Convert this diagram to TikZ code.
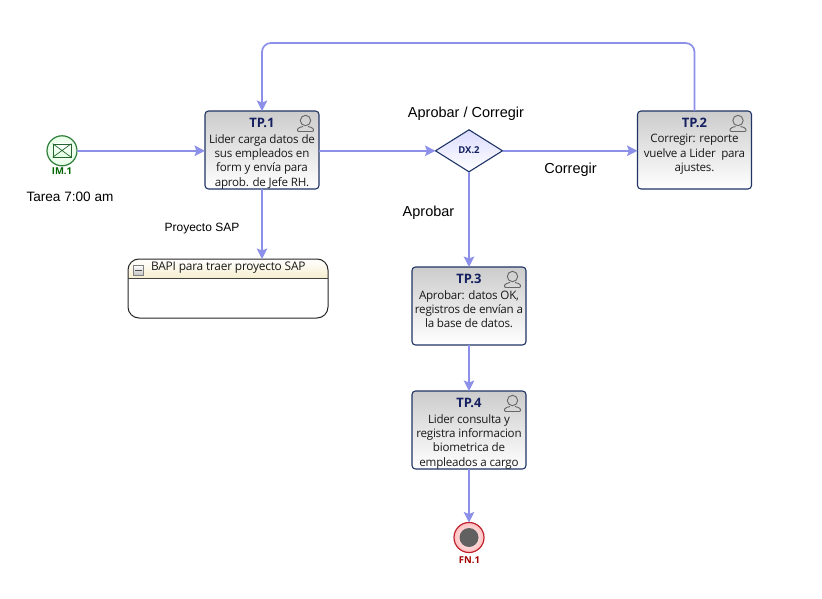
\documentclass[tikz,border=0pt]{standalone}
\usepackage{fontspec}
\setmainfont{Open Sans}
\newfontfamily\arialf{Liberation Sans}
\usetikzlibrary{arrows.meta,shapes.geometric}
\definecolor{flowc}{HTML}{8C90E8}
\definecolor{navy}{HTML}{1F3566}
\definecolor{titlec}{HTML}{14205F}
\definecolor{startg}{HTML}{2E7D3A}
\definecolor{endr}{HTML}{C0202C}
\tikzset{
  x=1pt,y=-1pt,
  flow/.style={draw=flowc,line width=1.7pt,-{Stealth[length=10.5pt,width=10.5pt,inset=2pt]},rounded corners=9pt},
  taskbox/.style={draw=navy,line width=1.1pt,rounded corners=3.5pt,top color=black!20,bottom color=white,middle color=black!10,minimum width=114pt,minimum height=78pt,inner sep=0pt,outer sep=0pt},
  bodytext/.style={anchor=north,align=center,font=\fontsize{11.6}{14.4}\selectfont\addfontfeatures{LetterSpace=-2},text=black!90,inner sep=0pt},
  tasktitle/.style={font=\fontsize{13}{14.4}\selectfont\bfseries,text=titlec},
  labelbig/.style={font=\arialf\fontsize{14.5}{16}\selectfont,text=black,inner sep=0pt},
  labelsmall/.style={font=\arialf\fontsize{12}{14}\selectfont,text=black,inner sep=0pt},
  person/.style={draw=black!60,line width=.9pt},
  evlabel/.style={font=\fontsize{9.5}{11}\selectfont\bfseries,inner sep=0pt}
}
\newcommand{\personicon}[1]{%
  \draw[person] ([shift={(-13.5,9.5)}]#1.north east) circle[radius=5.2];
  \draw[person] ([shift={(-16,15.5)}]#1.north east)
    .. controls ([shift={(-22,16)}]#1.north east) and ([shift={(-23,20.5)}]#1.north east) .. ([shift={(-20,20.5)}]#1.north east)
    -- ([shift={(-7,20.5)}]#1.north east)
    .. controls ([shift={(-4,20.5)}]#1.north east) and ([shift={(-5,16)}]#1.north east) .. ([shift={(-11,15.5)}]#1.north east);
}
\begin{document}
\begin{tikzpicture}
\useasboundingbox (0,0) rectangle (822,599);
\fill[white] (0,0) rectangle (822,599);

% events
\node[circle,draw=startg,line width=1.2pt,inner color=white,outer color=green!10,minimum size=30pt,inner sep=0pt,outer sep=0pt] (im1) at (62,150.8) {};
\node[draw=startg!80!black,line width=.7pt,top color=white,bottom color=green!12,minimum width=18pt,minimum height=13pt,inner sep=0pt] (env) at (62,150.5) {};
\draw[startg!80!black,line width=.7pt] (env.north west) -- (env.south east) (env.north east) -- (env.south west);
\node[evlabel,text=green!40!black] (im1l) at (62,171) {IM.1};
\node[labelbig,font=\arialf\fontsize{13.6}{16}\selectfont] (tarea) at (70,197) {Tarea 7:00 am};

\node[circle,draw=endr,line width=1.2pt,inner color=white,outer color=red!25,minimum size=30pt,inner sep=0pt,outer sep=0pt] (fn1) at (469,537.5) {};
\node[circle,fill=black!62,minimum size=19pt,inner sep=0pt] (fn1in) at (469,537.5) {};
\node[evlabel,text=red!65!black] (fn1l) at (469.5,560) {FN.1};

% tasks
\node[taskbox,anchor=north west] (tp1) at (205,111) {};
\node[taskbox,anchor=north west] (tp2) at (637.5,111) {};
\node[taskbox,anchor=north west] (tp3) at (412,267) {};
\node[taskbox,anchor=north west] (tp4) at (412,391) {};

\node[tasktitle] (tp1t) at (262,122.5) {TP.1};
\node[tasktitle] (tp2t) at (694.5,122.5) {TP.2};
\node[tasktitle] (tp3t) at (469,278.5) {TP.3};
\node[tasktitle] (tp4t) at (469,402.5) {TP.4};

\begin{scope}
  \clip[rounded corners=3.5pt] (tp1.north west) rectangle (tp1.south east);
  \node[bodytext] (tp1b) at (262,134) {Lider carga datos de\\sus empleados en\\form y envía para\\aprob. de Jefe RH.};
\end{scope}
\node[bodytext] (tp2b) at (694.5,134) {Corregir: reporte\\vuelve a Lider\ \ para\\ajustes.};
\node[bodytext] (tp3b) at (469,290) {Aprobar: datos OK,\\registros de envían a\\la base de datos.};
\begin{scope}
  \clip[rounded corners=3.5pt] (tp4.north west) rectangle (tp4.south east);
  \node[bodytext] (tp4b) at (469,414) {Lider consulta y\\registra informacion\\biometrica de\\empleados a cargo};
\end{scope}

\personicon{tp1}\personicon{tp2}\personicon{tp3}\personicon{tp4}

% gateway
\node[diamond,draw=navy,line width=1.1pt,top color=blue!14,bottom color=white,minimum width=67pt,minimum height=42pt,inner sep=0pt,aspect=1.6,outer sep=0pt] (dx2) at (469,150.8) {};
\node[font=\fontsize{9.5}{11}\selectfont\bfseries,text=titlec,inner sep=0pt] (dx2l) at (469,150) {DX.2};

% subprocess
\node[rounded corners=11pt,fill=white,minimum width=200pt,minimum height=59pt,inner sep=0pt,outer sep=0pt,anchor=north west] (bapi) at (128,259) {};
\begin{scope}
  \clip[rounded corners=11pt] (bapi.north west) rectangle (bapi.south east);
  \shade[top color=white,bottom color=yellow!40!brown!22] (128,259) rectangle (328,278);
\end{scope}
\draw[draw=black!85,line width=1pt,rounded corners=11pt] (bapi.north west) rectangle (bapi.south east);
\draw[black!75,line width=.9pt] (bapi.west |- 0,278) -- (bapi.east |- 0,278);
\node[draw=black!50,line width=.6pt,top color=white,bottom color=black!25,minimum size=10.5pt,inner sep=0pt] (minus) at (138.5,270.5) {};
\draw[black!70,line width=1pt] ([xshift=2pt]minus.west) -- ([xshift=-2pt]minus.east);
\node[font=\fontsize{11.9}{14}\selectfont\addfontfeatures{LetterSpace=-2},text=black!90,inner sep=0pt,anchor=west] (bapit) at (151,267.5) {BAPI para traer proyecto SAP};

% labels
\node[labelbig] (apc) at (466,114) {Aprobar / Corregir};
\node[labelbig] (corr) at (570.5,170) {Corregir};
\node[labelbig] (apr) at (428.5,213) {Aprobar};
\node[labelsmall] (psap) at (202,229) {Proyecto SAP};

% connectors
\draw[flow] (im1) -- (tp1.west |- im1);
\draw[flow] (tp1.east |- dx2) -- (dx2);
\draw[flow] (dx2) -- (tp2.west |- dx2);
\draw[flow] (tp1) -- (bapi.north -| tp1);
\draw[flow] (dx2) -- (tp3);
\draw[flow] (tp3) -- (tp4);
\draw[flow] (tp4) -- (fn1);
\coordinate (loopa) at (694.5,43);
\coordinate (loopb) at (262,43);
\draw[flow] (tp2.north) -- (loopa) -- (loopb) -- (tp1.north);
\end{tikzpicture}
\end{document}
